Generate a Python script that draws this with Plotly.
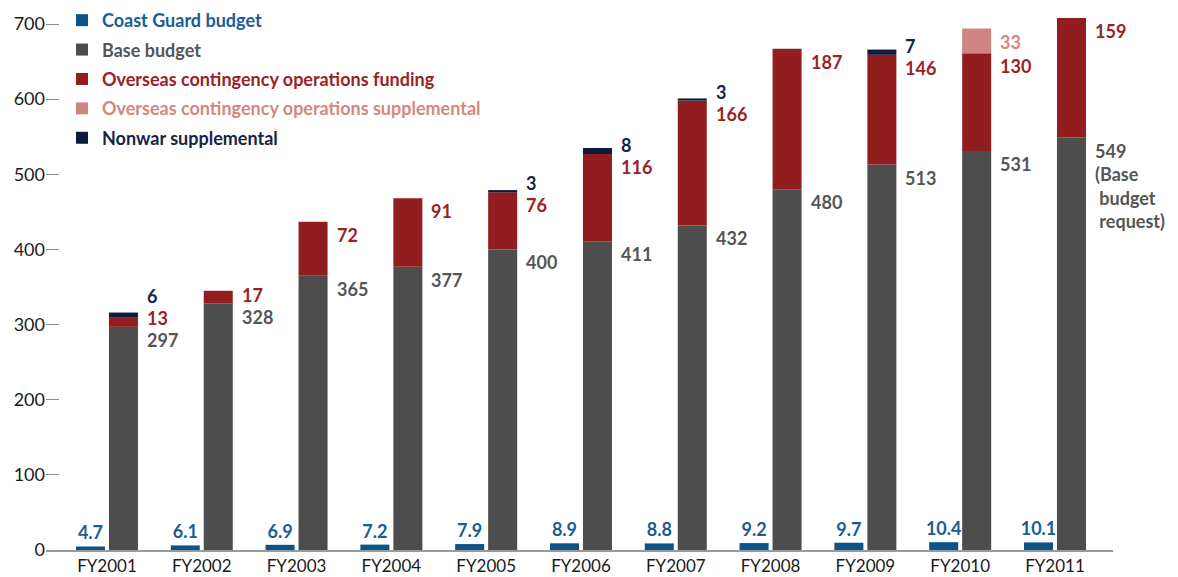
import plotly.graph_objects as go

categories = ["FY2001", "FY2002", "FY2003", "FY2004", "FY2005", "FY2006",
              "FY2007", "FY2008", "FY2009", "FY2010", "FY2011"]
coast_guard = [4.7, 6.1, 6.9, 7.2, 7.9, 8.9, 8.8, 9.2, 9.7, 10.4, 10.1]
base_budget = [297, 328, 365, 377, 400, 411, 432, 480, 513, 531, 549]
oco_funding = [13, 17, 72, 91, 76, 116, 166, 187, 146, 130, 159]
oco_supplemental = [0, 0, 0, 0, 0, 0, 0, 0, 0, 33, 0]
nonwar_supplemental = [6, 0, 0, 0, 3, 8, 3, 0, 7, 0, 0]
base_notes = {"FY2011": "(Base<br>&nbsp;budget<br>&nbsp;request)"}
y_ticks = [0, 100, 200, 300, 400, 500, 600, 700]

FONT = "Lato"
C_BLUE, C_BLUE_T = "#0b538b", "#1a5d94"
C_GREY, C_GREY_T = "#4d4d4d", "#555555"
C_RED, C_RED_T = "#921d1f", "#9a2226"
C_PINK, C_PINK_T = "#cf857f", "#d4877f"
C_NAVY, C_NAVY_T = "#0e1b3d", "#16244a"

# geometry (style)
W = 0.306
OFF_BLUE = -0.327
OFF_STACK = 0.021
Y_MAX = 720
PLOT_H = 541
PX = PLOT_H / Y_MAX

x = list(range(len(categories)))
fig = go.Figure()

fig.add_trace(go.Bar(
    x=x, y=coast_guard, offset=OFF_BLUE, width=W,
    marker=dict(color=C_BLUE, line=dict(width=0)),
    name=f'<span style="color:{C_BLUE_T}">Coast Guard budget</span>',
    legendgroup="a",
    text=[f"{v:.1f}" for v in coast_guard], textposition="outside",
    textfont=dict(family=FONT, size=18, color=C_BLUE_T, weight="bold"),
    constraintext="none", cliponaxis=False,
))

stack_series = [
    ("Base budget", base_budget, C_GREY, C_GREY_T, "b"),
    ("Overseas contingency operations funding", oco_funding, C_RED, C_RED_T, "c"),
    ("Overseas contingency operations supplemental", oco_supplemental, C_PINK, C_PINK_T, "d"),
    ("Nonwar supplemental", nonwar_supplemental, C_NAVY, C_NAVY_T, "e"),
]

cum = [0.0] * len(categories)
tops = []
for name, vals, col, tcol, grp in stack_series:
    base = list(cum)
    fig.add_trace(go.Bar(
        x=x, y=[v if v else None for v in vals], base=base,
        offset=OFF_STACK, width=W,
        marker=dict(color=col, line=dict(width=0)),
        name=f'<span style="color:{tcol}">{name}</span>',
        legendgroup=grp,
    ))
    cum = [c + v for c, v in zip(cum, vals)]
    tops.append((vals, list(cum), tcol))

# value labels to the right of each stacked bar
for i, cat in enumerate(categories):
    prev_center = None
    for k, (vals, cums, tcol) in enumerate(tops):
        v = vals[i]
        if not v:
            continue
        top_up = cums[i] * PX
        center = top_up - 13
        if prev_center is not None and center < prev_center + 22:
            center = prev_center + 22
        prev_center = center
        text = f"{v}"
        if k == 0 and cat in base_notes:
            text = f"{v}<br>{base_notes[cat]}"
            fig.add_annotation(x=i + OFF_STACK + W, y=cums[i], xref="x", yref="y",
                               text=text, showarrow=False, xanchor="left", yanchor="top",
                               align="left", xshift=7, yshift=center + 12 - top_up,
                               font=dict(family=FONT, size=18, color=tcol, weight="bold"))
        else:
            fig.add_annotation(x=i + OFF_STACK + W, y=cums[i], xref="x", yref="y",
                               text=text, showarrow=False, xanchor="left", yanchor="middle",
                               xshift=7, yshift=center - top_up,
                               font=dict(family=FONT, size=18, color=tcol, weight="bold"))

# page body has an 8px default margin; size the figure to fit the window
fig.update_layout(
    width=1170, height=569,
    margin=dict(l=38, r=65, t=1, b=27, autoexpand=False),
    barmode="overlay",
    plot_bgcolor="white", paper_bgcolor="white",
    font=dict(family=FONT, size=17, color="#1a1a1a"),
    showlegend=True,
    legend=dict(x=0.015, y=1.013, xanchor="left", yanchor="top",
                font=dict(family=FONT, size=18, weight="bold"),
                traceorder="grouped", tracegroupgap=3,
                bgcolor="rgba(0,0,0,0)"),
    xaxis=dict(range=[-0.643, len(categories) - 1 + 0.612], automargin=False,
               tickvals=x, ticktext=categories, showgrid=False, zeroline=False,
               showline=True, linecolor="#9a9a9a", linewidth=2, ticks="",
               tickfont=dict(family=FONT, size=17, color="#1a1a1a"),
               ticklabelstandoff=0),
    yaxis=dict(range=[0, Y_MAX], tickvals=y_ticks, showgrid=False, zeroline=False,
               automargin=False,
               showline=False, ticks="inside", ticklen=13, tickcolor="#8c8c8c",
               tickwidth=1, tickfont=dict(family=FONT, size=18, color="#1a1a1a")),
)

fig.write_html("out.html")
